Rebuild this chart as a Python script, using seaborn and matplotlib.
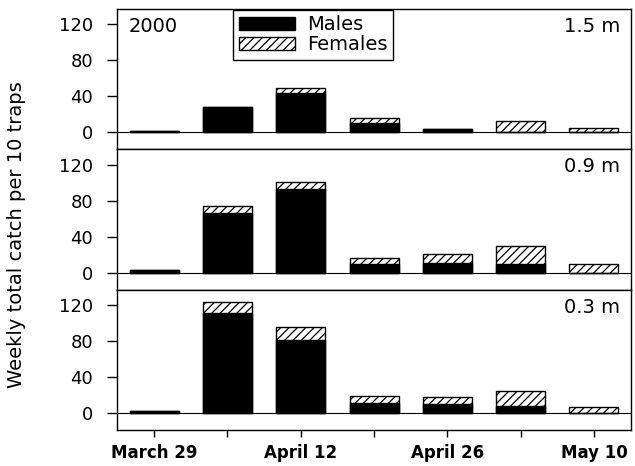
import matplotlib
matplotlib.use("Agg")
import matplotlib.pyplot as plt
from matplotlib.patches import Patch
import seaborn as sns
import pandas as pd

# weekly sampling dates (only every other one is labelled on the axis)
weeks = ["March 29", "April 5", "April 12", "April 19", "April 26", "May 3", "May 10"]
tick_labels = ["March 29", "", "April 12", "", "April 26", "", "May 10"]

depths = ["1.5 m", "0.9 m", "0.3 m"]
males_15 = [1, 28, 43, 10, 3, 0, 0]
females_15 = [0, 0, 6, 6, 0, 12, 5]
males_09 = [3, 66, 93, 9, 11, 10, 0]
females_09 = [0, 8, 8, 7, 10, 19, 9]
males_03 = [2, 111, 81, 11, 10, 8, 0]
females_03 = [0, 12, 15, 8, 8, 17, 7]

males = [males_15, males_09, males_03]
females = [females_15, females_09, females_03]

sns.set_style("ticks")
plt.rcParams.update({
    "font.family": ["DejaVu Sans"],
    "axes.edgecolor": "black",
    "axes.linewidth": 1.0,
    "text.color": "black",
    "xtick.color": "black",
    "ytick.color": "black",
    "hatch.linewidth": 0.9,
})

fig, axes = plt.subplots(3, 1, sharex=True, figsize=(6.35, 4.66), dpi=100)
fig.subplots_adjust(left=0.184, right=0.993, top=0.981, bottom=0.077, hspace=0)

for i, ax in enumerate(axes):
    df = pd.DataFrame({"week": weeks, "male": males[i], "female": females[i]})
    df["total"] = df["male"] + df["female"]

    ax.axhline(0, color="black", lw=0.8, zorder=0.5)
    # females stacked on top of males: draw totals hatched, then males in black
    sns.barplot(data=df, x="week", y="total", order=weeks, color="white",
                saturation=1, edgecolor="black", linewidth=1, hatch="////",
                width=0.67, errorbar=None, ax=ax)
    sns.barplot(data=df, x="week", y="male", order=weeks, color="black",
                saturation=1, edgecolor="black", linewidth=1,
                width=0.67, errorbar=None, ax=ax)

    ax.set_ylim(-19, 137)
    ax.set_xlim(-0.51, 6.5)
    ax.set_yticks([0, 40, 80, 120])
    ax.tick_params(axis="y", labelsize=13, length=7, width=1, pad=10)
    ax.set_xlabel("")
    ax.set_ylabel("")
    for s in ax.spines.values():
        s.set_visible(True)
    ax.text(0.979, 0.875, depths[i], transform=ax.transAxes, ha="right",
            va="center", fontsize=14)

    if i < 2:
        ax.tick_params(axis="x", bottom=False)

axes[0].text(0.023, 0.875, "2000", transform=axes[0].transAxes, ha="left",
             va="center", fontsize=14)

handles = [Patch(facecolor="black", edgecolor="black"),
           Patch(facecolor="white", edgecolor="black", hatch="////")]
leg = axes[0].legend(handles, ["Males", "Females"], loc="upper left",
                     bbox_to_anchor=(0.226, 0.995), borderaxespad=0,
                     fontsize=14, handlelength=2.9, handletextpad=0.6,
                     labelspacing=0.05, borderpad=0.3, fancybox=False,
                     framealpha=1, edgecolor="black")
leg.get_frame().set_linewidth(1.0)

axes[2].set_xticks(range(len(weeks)))
axes[2].set_xticklabels(tick_labels, fontsize=12, fontweight="bold")
axes[2].tick_params(axis="x", length=5, width=1, pad=5)

fig.text(0.026, 0.496, "Weekly total catch per 10 traps", rotation=90,
         ha="center", va="center", fontsize=14)

fig.savefig("out.png", dpi=100)
